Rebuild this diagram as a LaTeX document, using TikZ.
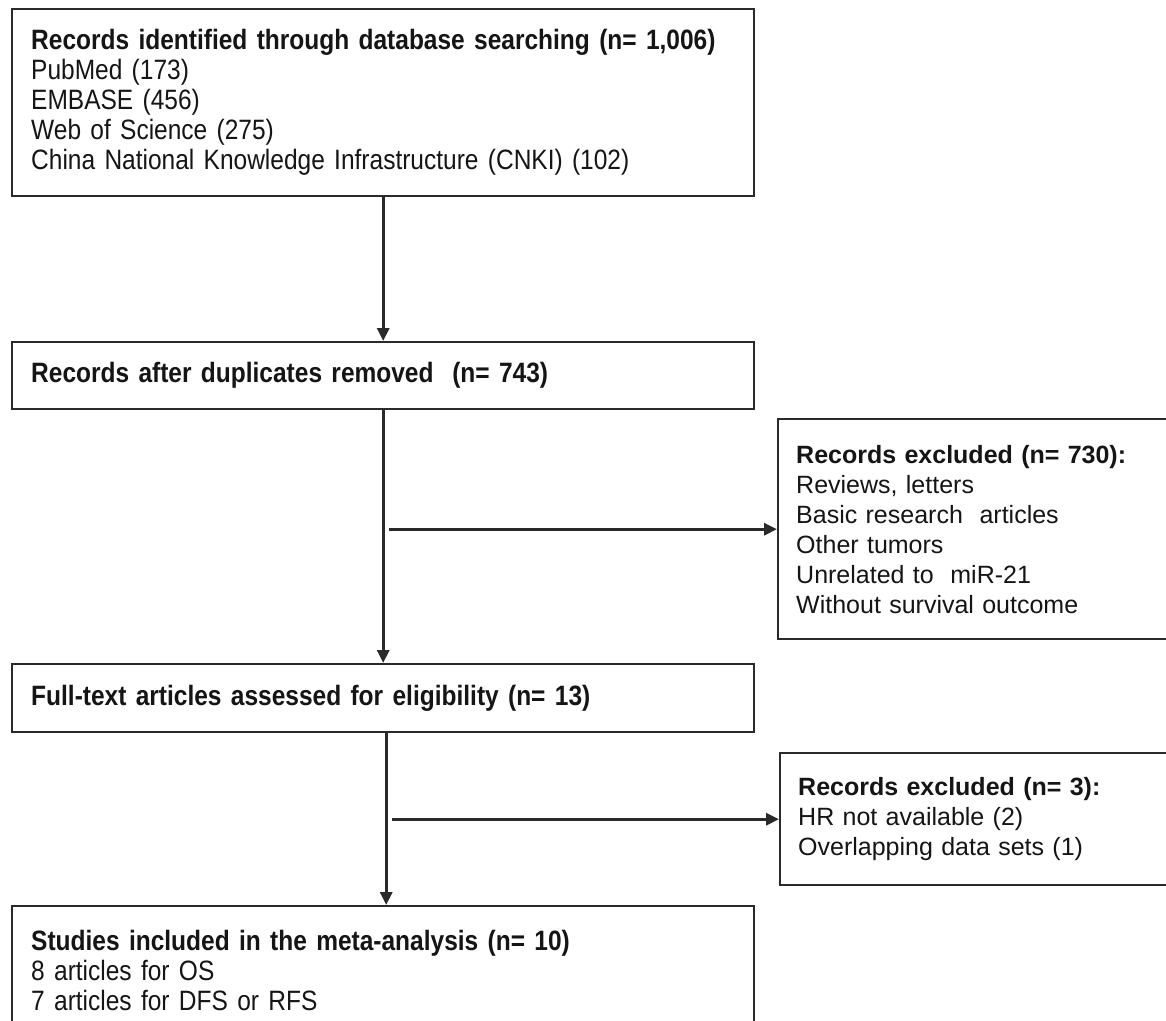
\documentclass[tikz,border=0pt]{standalone}
\usepackage{fontspec}
\setmainfont{Liberation Sans}
\newfontfamily\narrowfont{Liberation Sans}[FakeStretch=0.875]
\usetikzlibrary{arrows.meta,calc}
\definecolor{linecol}{HTML}{2A2A2A}
\definecolor{txtcol}{HTML}{151515}
\begin{document}
\begin{tikzpicture}[x=1pt,y=1pt,
  box/.style={draw=linecol, line width=2.4pt, rectangle, align=left, inner xsep=19pt, inner ysep=0pt, anchor=north west, text=txtcol},
  leftbox/.style={box, text width=704pt, font=\narrowfont\fontsize{28}{30}\selectfont},
  rightbox/.style={box, inner xsep=18pt, text width=377pt, font=\fontsize{25}{30}\selectfont},
  arr/.style={draw=linecol, line width=3pt, -{Triangle[length=13pt,width=12pt]}}]
\clip (0,0) rectangle (1166,-1020);
\fill[white] (0,0) rectangle (1166,-1020);

\node[leftbox, minimum height=187pt] (b1) at (11,-8)
  {\textbf{Records identified through database searching (n= 1,006)}\\
   PubMed (173)\\ EMBASE (456)\\ Web of Science (275)\\
   China National Knowledge Infrastructure (CNKI) (102)};

\node[leftbox, minimum height=67pt] (b2) at (11,-341)
  {\textbf{Records after duplicates removed \ (n= 743)}};

\node[rightbox, minimum height=220pt] (b3) at (777,-418)
  {\textbf{Records excluded (n= 730):}\\
   Reviews, letters\\ Basic research \ articles\\ Other tumors\\
   Unrelated to \ miR-21\\ Without survival outcome};

\node[leftbox, minimum height=68pt] (b4) at (11,-663)
  {\textbf{Full-text articles assessed for eligibility (n= 13)}};

\node[rightbox, text width=375pt, minimum height=132pt] (b5) at (779,-752)
  {\textbf{Records excluded (n= 3):}\\
   HR not available (2)\\ Overlapping data sets (1)};

\node[leftbox, minimum height=128pt] (b6) at (11,-905)
  {\textbf{Studies included in the meta-analysis (n= 10)}\\
   8 articles for OS\\ 7 articles for DFS or RFS};

\draw[arr] (b1.south) -- (b2.north);
\draw[arr] (b2.south) -- (b4.north);
\draw[arr] ([xshift=3pt]b4.south) -- ([xshift=3pt]b6.north);

\coordinate (t1) at ([xshift=6pt]b2.south);
\coordinate (t2) at ([xshift=9pt]b4.south);
\draw[arr] (t1 |- b3.west) -- (b3.west);
\draw[arr] (t2 |- b5.west) -- (b5.west);
\end{tikzpicture}
\end{document}
